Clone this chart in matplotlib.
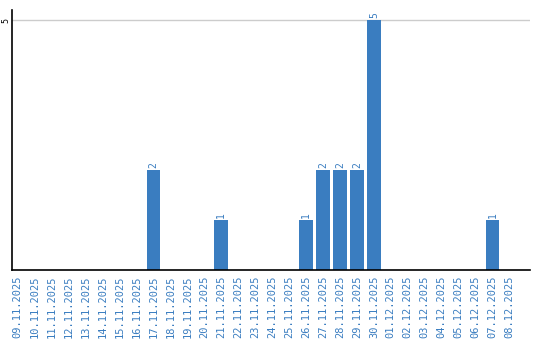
import matplotlib
matplotlib.use("Agg")
import matplotlib.pyplot as plt
import pandas as pd

dates = pd.date_range("2025-11-09", "2025-12-08", freq="D")
labels = [d.strftime("%d.%m.%Y") for d in dates]
counts_by_date = {"17.11.2025": 2, "21.11.2025": 1, "26.11.2025": 1, "27.11.2025": 2,
                  "28.11.2025": 2, "29.11.2025": 2, "30.11.2025": 5, "07.12.2025": 1}
values = [counts_by_date.get(l, 0) for l in labels]

blue = "#3a7dc0"
fig = plt.figure(figsize=(5.4, 3.4), dpi=100)
ax = fig.add_axes([0.0215, 0.206, 0.96, 0.764])
x = list(range(len(labels)))
ax.bar(x, values, width=0.8, color=blue, zorder=2)
for xi, v in zip(x, values):
    if v > 0:
        ax.text(xi, v + 0.04, str(v), rotation=90, ha="center", va="bottom",
                color=blue, fontsize=7, family="DejaVu Sans Mono")
ax.set_xlim(-0.35, 30.2)
ax.set_ylim(0, 5.2)
ax.set_yticks([5])
ax.set_yticklabels(["5"], rotation=90, va="center", fontsize=6, family="DejaVu Sans Mono")
ax.axhline(5, color="#cccccc", lw=1, zorder=1)
ax.set_xticks(x)
ax.set_xticklabels(labels, rotation=90, fontsize=7.5, color=blue, family="DejaVu Sans Mono")
ax.tick_params(axis="x", length=0, pad=4)
ax.tick_params(axis="y", length=0, pad=1)
for s in ["top", "right"]:
    ax.spines[s].set_visible(False)
for s in ["left", "bottom"]:
    ax.spines[s].set_color("black")
    ax.spines[s].set_linewidth(1.2)
fig.savefig("out.png", dpi=100)
